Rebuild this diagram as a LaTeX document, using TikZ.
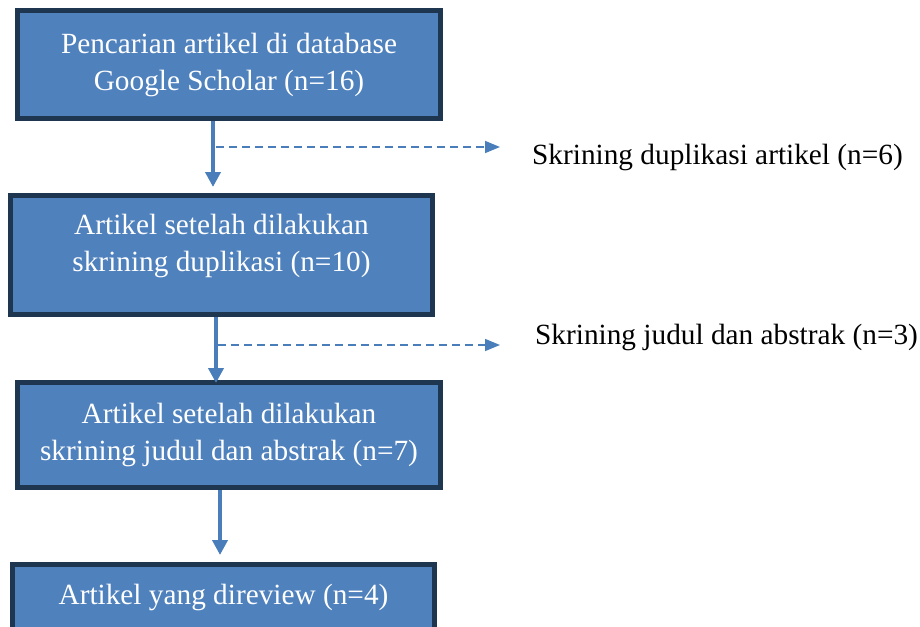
\documentclass[tikz,border=0pt]{standalone}
\usepackage{fontspec}
\setmainfont{Liberation Serif}
\usetikzlibrary{arrows.meta,positioning}
\definecolor{boxfill}{HTML}{4F81BD}
\definecolor{boxline}{HTML}{1F3651}
\definecolor{flow}{HTML}{4A7EBB}

\begin{document}
\begin{tikzpicture}[x=1pt,y=-1pt,
  stage/.style={draw=boxline,fill=boxfill,line width=5.5pt,text=white,align=center,
    inner sep=0pt,outer sep=2.75pt,font=\fontsize{29.3}{37}\selectfont},
  mainflow/.style={flow,line width=4.5pt,-{Triangle[width=15pt,length=15pt]}},
  sideflow/.style={flow,line width=1.5pt,dash pattern=on 8pt off 5pt,-{Triangle[width=12pt,length=15pt]}},
  note/.style={anchor=west,inner sep=0pt,font=\fontsize{29.3}{37}\selectfont}]
\useasboundingbox (0,0) rectangle (920,626);
\clip (0,0) rectangle (920,626);
% stages
\node[stage,minimum width=423pt,minimum height=108pt] (srch) at (229,64.5) {Pencarian artikel di database\\Google Scholar (n=16)};
\node[stage,minimum width=422pt,minimum height=119pt,text depth=25pt] (dupl) at (221.5,255) {Artikel setelah dilakukan\\skrining duplikasi (n=10)};
\node[stage,minimum width=423pt,minimum height=105pt] (judl) at (229,435) {Artikel setelah dilakukan\\skrining judul dan abstrak (n=7)};
\node[stage,minimum width=422pt,minimum height=65pt] (revw) at (223.5,597) {Artikel yang direview (n=4)};
% excluded
\node[note] (exdup) at (532,157) {Skrining duplikasi artikel (n=6)};
\node[note] (exjud) at (535,337) {Skrining judul dan abstrak (n=3)};
% main flow
\coordinate (t1) at (213,187);
\coordinate (t2) at (216,383);
\coordinate (t3) at (220,555);
\draw[mainflow] (srch.south -| t1) -- (t1);
\draw[mainflow] (dupl.south -| t2) -- (t2);
\draw[mainflow] (judl.south -| t3) -- (t3);
% side flow
\coordinate (j1) at (216,147);
\coordinate (e1) at (500,147);
\coordinate (j2) at (218,345);
\coordinate (e2) at (500,345);
\draw[sideflow] (j1) -- (e1);
\draw[sideflow] (j2) -- (e2);
\end{tikzpicture}
\end{document}
